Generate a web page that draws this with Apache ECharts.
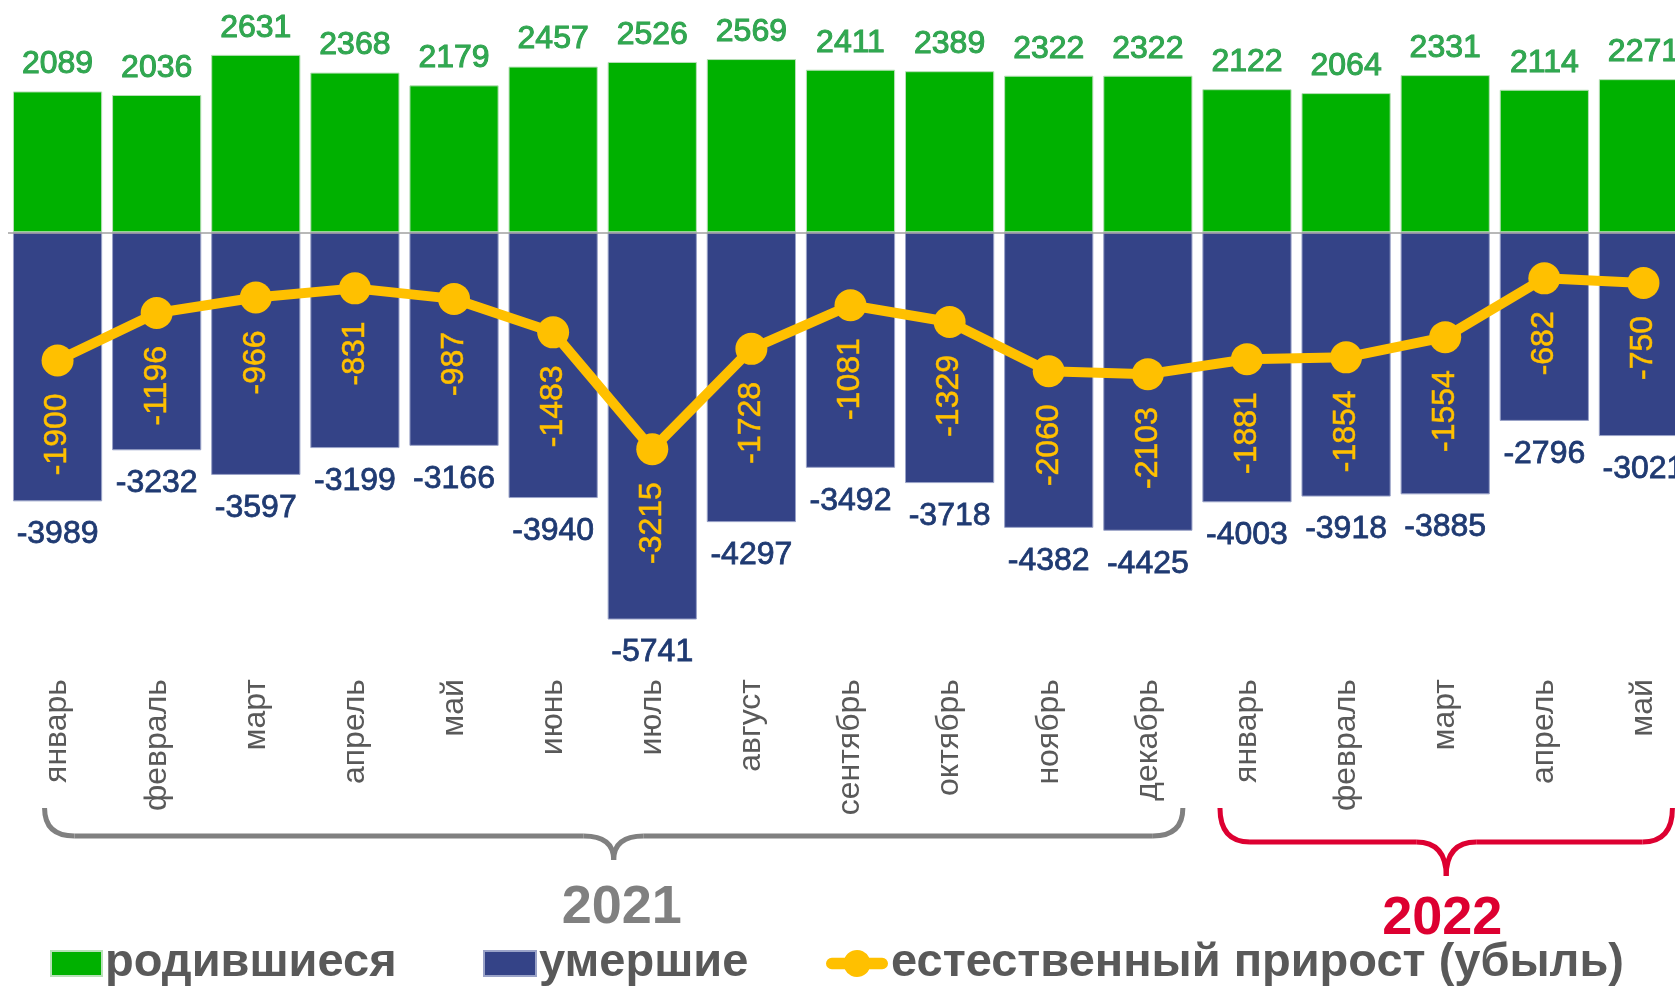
<!DOCTYPE html>
<html>
<head>
<meta charset="utf-8">
<script src="https://cdn.jsdelivr.net/npm/echarts@6/dist/echarts.min.js"></script>
<style>
  html, body { margin: 0; padding: 0; background: #fff; }
  #main { width: 1675px; height: 987px; }
</style>
</head>
<body>
<div id="main"></div>
<script>
// месяцы 2021 (янв-дек) и 2022 (янв-май)
var months = ['январь', 'февраль', 'март', 'апрель', 'май', 'июнь', 'июль', 'август',
    'сентябрь', 'октябрь', 'ноябрь', 'декабрь', 'январь', 'февраль', 'март', 'апрель', 'май'];
var births = [2089, 2036, 2631, 2368, 2179, 2457, 2526, 2569, 2411, 2389, 2322, 2322, 2122, 2064, 2331, 2114, 2271];
var deaths = [-3989, -3232, -3597, -3199, -3166, -3940, -5741, -4297, -3492, -3718, -4382, -4425, -4003, -3918, -3885, -2796, -3021];
var growth = [-1900, -1196, -966, -831, -987, -1483, -3215, -1728, -1081, -1329, -2060, -2103, -1881, -1854, -1554, -682, -750];
// годы и индексы первого/последнего месяца
var years = ['2021', '2022'];
var yearFirst = [0, 12];
var yearLast = [11, 16];

var narrow = '"Liberation Sans Narrow", "Liberation Sans", Arial, sans-serif';
var sans = '"Liberation Sans", Arial, sans-serif';

// значок линии с кружком для легенды
var lineIcon = 'path://M6,8 H19.35 A14,14 0 0 1 44.65,8 H58 A6,6 0 0 1 58,20 H44.65 A14,14 0 0 1 19.35,20 H6 A6,6 0 0 1 6,8 Z';

var legendText = { fontFamily: narrow, fontWeight: 'bold', fontSize: 47, color: '#595959', padding: [0, 0, 0, -2] };

var chartDom = document.getElementById('main');
var myChart = echarts.init(chartDom);
var option;

option = {
    animation: false,
    legend: [
        {
            data: ['родившиеся'], left: 45, top: 935, icon: 'rect',
            itemWidth: 51, itemHeight: 25, itemGap: 0, textStyle: legendText
        },
        {
            data: ['умершие'], left: 478, top: 935, icon: 'rect',
            itemWidth: 52, itemHeight: 25, itemGap: 0, textStyle: legendText
        },
        {
            data: ['естественный прирост (убыль)'], left: 821, top: 935, icon: lineIcon,
            itemWidth: 62, itemHeight: 28, itemGap: 0, textStyle: legendText
        }
    ],
    grid: {
        left: 8,
        top: 3,
        width: 1685,
        height: 634,
        outerBoundsMode: 'none'
    },
    xAxis: {
        type: 'category',
        data: months,
        axisLine: { show: false },
        axisTick: { show: false },
        axisLabel: {
            interval: 0,
            rotate: 90,
            margin: 42,
            fontFamily: sans,
            fontSize: 32,
            color: '#595959'
        }
    },
    yAxis: {
        type: 'value',
        min: -6000,
        max: 3400,
        show: false
    },
    series: [
        {
            name: 'родившиеся',
            type: 'bar',
            data: births,
            barGap: '-100%',
            barCategoryGap: '10%',
            itemStyle: { color: '#00b100', borderColor: '#b8e0b8', borderWidth: 1 },
            label: {
                show: true,
                position: 'top',
                distance: 11,
                fontFamily: sans,
                fontSize: 32,
                color: '#30a850',
                textBorderColor: '#2a9a48',
                textBorderWidth: 1
            },
            markLine: {
                silent: true,
                symbol: 'none',
                label: { show: false },
                lineStyle: { color: '#a0a0a0', width: 1.5, type: 'solid' },
                data: [{ yAxis: 0 }]
            }
        },
        {
            name: 'умершие',
            type: 'bar',
            data: deaths,
            itemStyle: { color: '#344387', borderColor: '#9aa3c8', borderWidth: 1 },
            label: {
                show: true,
                position: 'bottom',
                distance: 17,
                fontFamily: sans,
                fontSize: 32,
                color: '#1f3a72',
                textBorderColor: '#1f3a72',
                textBorderWidth: 0.8
            }
        },
        {
            name: 'естественный прирост (убыль)',
            type: 'line',
            data: growth,
            z: 5,
            symbol: 'circle',
            symbolSize: 32,
            color: '#ffc000',
            lineStyle: { width: 10, color: '#ffc000' },
            itemStyle: { color: '#ffc000' },
            label: {
                show: true,
                position: 'bottom',
                rotate: 90,
                align: 'right',
                verticalAlign: 'middle',
                distance: 17,
                fontFamily: sans,
                fontSize: 32,
                color: '#ffc000',
                textBorderColor: '#f0b400',
                textBorderWidth: 0.6
            }
        }
    ]
};

option && myChart.setOption(option);

// фигурные скобки под подписями месяцев
var braceStyle = [
    { color: '#808080', top: 808, mid: 836, tip: 860, dl: 13, dr: 35, ty: 908, tx: 8 },
    { color: '#dd0031', top: 808, mid: 842, tip: 876, dl: 27, dr: 29, ty: 919, tx: -4 }
];
var graphics = [];
function curve(x1, y1, cx, cy, x2, y2, color) {
    return {
        type: 'bezierCurve',
        shape: { x1: x1, y1: y1, cpx1: cx, cpy1: cy, x2: x2, y2: y2 },
        style: { fill: null, stroke: color, lineWidth: 5 }
    };
}
function segment(x1, y1, x2, y2, color) {
    return {
        type: 'line',
        shape: { x1: x1, y1: y1, x2: x2, y2: y2 },
        style: { stroke: color, lineWidth: 5 }
    };
}
for (var i = 0; i < years.length; i++) {
    var s = braceStyle[i];
    var x0 = myChart.convertToPixel({ xAxisIndex: 0 }, yearFirst[i]) - s.dl;
    var x1 = myChart.convertToPixel({ xAxisIndex: 0 }, yearLast[i]) + s.dr;
    var xm = (x0 + x1) / 2;
    var r = 30;
    graphics.push(curve(x0, s.top, x0, s.mid, x0 + r, s.mid, s.color));
    graphics.push(segment(x0 + r, s.mid, xm - r, s.mid, s.color));
    graphics.push(curve(xm - r, s.mid, xm, s.mid, xm, s.tip, s.color));
    graphics.push(curve(xm + r, s.mid, xm, s.mid, xm, s.tip, s.color));
    graphics.push(segment(xm + r, s.mid, x1 - r, s.mid, s.color));
    graphics.push(curve(x1 - r, s.mid, x1, s.mid, x1, s.top, s.color));
    graphics.push({
        type: 'text',
        x: xm + s.tx,
        y: s.ty,
        style: {
            text: years[i],
            fill: s.color,
            font: 'bold 54px ' + narrow,
            textAlign: 'center',
            textVerticalAlign: 'middle'
        }
    });
}
myChart.setOption({ graphic: graphics });
</script>
</body>
</html>
